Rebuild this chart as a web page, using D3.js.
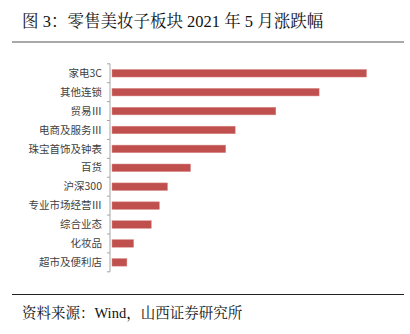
<!DOCTYPE html>
<html>
<head>
<meta charset="utf-8">
<script src="https://cdn.jsdelivr.net/npm/d3@7"></script>
<style>
  html, body { margin: 0; padding: 0; background: #fff; }
  svg { display: block; }
</style>
</head>
<body>
<svg id="chart" width="410" height="334"></svg>
<script>
// Sub-sector names, top to bottom
const categories = ["家电3C", "其他连锁", "贸易Ⅲ", "电商及服务Ⅲ", "珠宝首饰及钟表", "百货", "沪深300", "专业市场经营Ⅲ", "综合业态", "化妆品", "超市及便利店"];
// May 2021 change, %
const changes = [18.8, 15.3, 12.1, 9.1, 8.4, 5.8, 4.1, 3.5, 2.9, 1.6, 1.1];

const titleText = "图 3：零售美妆子板块 2021 年 5 月涨跌幅";
const sourceText = "资料来源：Wind，山西证券研究所";

const svg = d3.select("#chart");
const cjkSerif = "'Liberation Serif', 'Times New Roman', 'Noto Serif CJK SC', 'Noto Sans CJK SC', serif";
const cjkSans = "'Noto Sans CJK SC', 'Microsoft YaHei', sans-serif";

// Title and rules
svg.append("text")
  .attr("x", 22).attr("y", 27)
  .attr("font-family", cjkSerif)
  .attr("font-size", 16.5)
  .attr("fill", "#111")
  .text(titleText);

svg.append("line")
  .attr("x1", 12).attr("x2", 404).attr("y1", 42).attr("y2", 42)
  .attr("stroke", "#8c8c8c").attr("stroke-width", 1.5);

svg.append("line")
  .attr("x1", 12).attr("x2", 404).attr("y1", 294.5).attr("y2", 294.5)
  .attr("stroke", "#222").attr("stroke-width", 1.2);

svg.append("text")
  .attr("x", 22).attr("y", 318)
  .attr("font-family", cjkSerif)
  .attr("font-size", 14.5)
  .attr("fill", "#111")
  .text(sourceText);

// Plot
const x0 = 110;
const x = d3.scaleLinear().domain([0, 18.8]).range([x0 + 2, 366.5]);
const y = d3.scaleBand().domain(categories).range([63.8, 271.8]).paddingInner(0.6).paddingOuter(0.3);

svg.append("g")
  .selectAll("rect")
  .data(categories)
  .join("rect")
  .attr("x", x(0))
  .attr("y", d => y(d))
  .attr("width", (d, i) => x(changes[i]) - x(0))
  .attr("height", y.bandwidth())
  .attr("fill", "#C0504D")
  .attr("stroke", "#d98a88")
  .attr("stroke-width", 0.5);

// Category axis with boundary ticks
const axisG = svg.append("g");
axisG.append("line")
  .attr("x1", x0).attr("x2", x0)
  .attr("y1", 63.8).attr("y2", 271.8)
  .attr("stroke", "#a6a6a6").attr("stroke-width", 1);

const step = y.step();
const bounds = d3.range(categories.length + 1).map(i => 63.8 + i * step);
axisG.selectAll("line.tick")
  .data(bounds)
  .join("line")
  .attr("class", "tick")
  .attr("x1", x0 - 3).attr("x2", x0)
  .attr("y1", d => d).attr("y2", d => d)
  .attr("stroke", "#a6a6a6").attr("stroke-width", 1);

axisG.selectAll("text")
  .data(categories)
  .join("text")
  .attr("x", 102)
  .attr("y", d => y(d) + y.bandwidth() / 2)
  .attr("dy", "0.35em")
  .attr("text-anchor", "end")
  .attr("font-family", cjkSans)
  .attr("font-size", 10.5)
  .attr("fill", "#404040")
  .text(d => d);
</script>
</body>
</html>
